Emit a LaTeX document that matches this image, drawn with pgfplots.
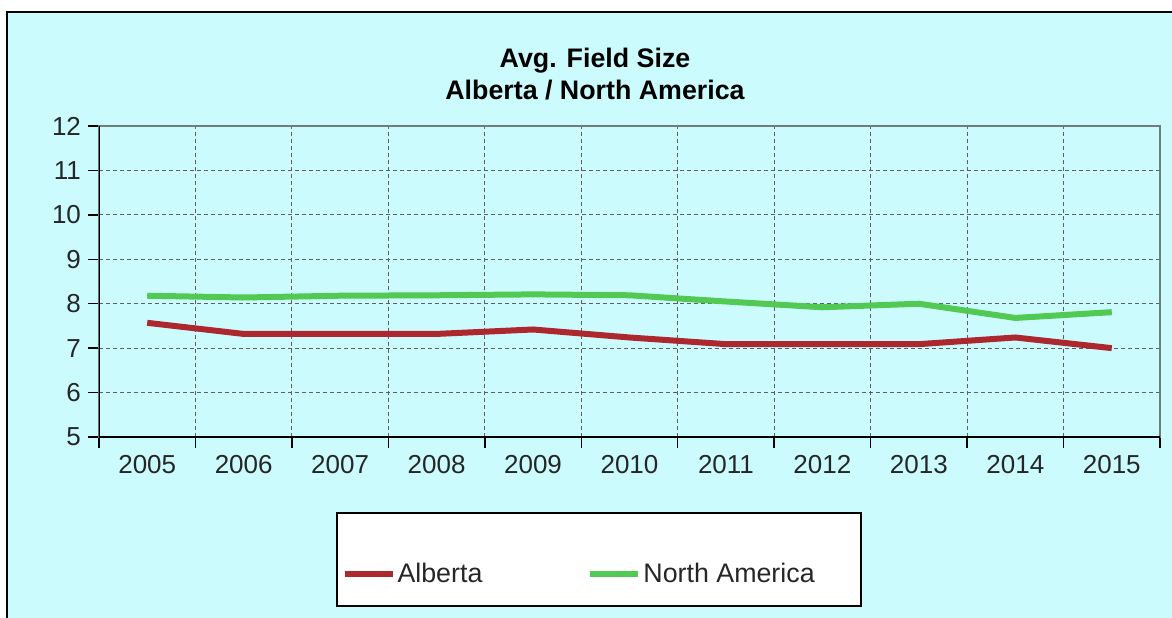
\documentclass[border=0pt]{standalone}
\usepackage{fontspec}
\setmainfont{Liberation Sans}
\usepackage{pgfplots}
\pgfplotsset{compat=1.18}
\definecolor{bgcyan}{RGB}{204,251,254}
\definecolor{albred}{RGB}{172,40,46}
\definecolor{nagreen}{RGB}{82,201,82}
\definecolor{gridgray}{RGB}{95,95,95}
\definecolor{boxgray}{RGB}{110,125,125}
\begin{document}
\begin{tikzpicture}
\useasboundingbox (0,0) rectangle (586pt,308.5pt);
\clip (0,0) rectangle (586pt,308.5pt);
\fill[white] (0,0) rectangle (586pt,308.5pt);
\draw[line width=1.2pt, fill=bgcyan] (3.5pt,-5pt) rectangle (600pt,302.5pt);
\node[font=\fontsize{13.4}{15}\selectfont\bfseries, anchor=base] at (297.5pt,274.5pt) {Avg. Field Size};
\node[font=\fontsize{13.4}{15}\selectfont\bfseries, anchor=base] at (297.5pt,258.5pt) {Alberta / North America};
\draw[black, line width=0.9pt, fill=white] (168.5pt,5.5pt) rectangle (430.5pt,52pt);
\begin{axis}[
  at={(49.5pt,90pt)}, anchor=south west,
  scale only axis, width=530.5pt, height=155.5pt,
  xmin=0, xmax=11, ymin=5, ymax=12,
  xtick={0,...,11}, xticklabels={},
  extra x ticks={0.5,1.5,...,10.5},
  extra x tick labels={2005,2006,2007,2008,2009,2010,2011,2012,2013,2014,2015},
  extra x tick style={grid=none, tick style={draw=none}},
  ytick={5,...,12},
  xtick pos=lower, ytick pos=left,
  xmajorgrids, ymajorgrids,
  grid style={gridgray, line width=0.5pt, dash pattern=on 2pt off 1.5pt},
  tick align=outside, major tick length=5.5pt,
  tick style={black, line width=0.75pt},
  axis line style={boxgray, line width=0.75pt},
  ticklabel style={font=\fontsize{13}{15}\selectfont, text=black!85},
  /pgf/number format/assume math mode=true,
  legend columns=2,
  legend image code/.code={\draw[#1] (0pt,0pt) -- (24pt,0pt);},
  legend style={at={(0.2282,-0.442)}, anchor=west, draw=none, fill=none, inner sep=0pt,
    font=\fontsize{13.4}{15}\selectfont, text=black!85,
    cells={anchor=west}, nodes={inner xsep=1pt},
    /tikz/every even column/.append style={column sep=51.5pt}},
]
\addplot[albred, line width=3pt, line join=round] coordinates {
(0.5,7.57) (1.5,7.32) (2.5,7.32) (3.5,7.32) (4.5,7.42) (5.5,7.24) (6.5,7.09) (7.5,7.09) (8.5,7.09) (9.5,7.24) (10.5,7.00)};
\addlegendentry{Alberta}
\addplot[nagreen, line width=3pt, line join=round] coordinates {
(0.5,8.18) (1.5,8.14) (2.5,8.18) (3.5,8.19) (4.5,8.21) (5.5,8.19) (6.5,8.05) (7.5,7.92) (8.5,8.00) (9.5,7.68) (10.5,7.81)};
\addlegendentry{North America}
\draw[black, line width=0.9pt] (rel axis cs:0,1) -- (rel axis cs:0,0) -- (rel axis cs:1,0);
\end{axis}
\end{tikzpicture}
\end{document}
